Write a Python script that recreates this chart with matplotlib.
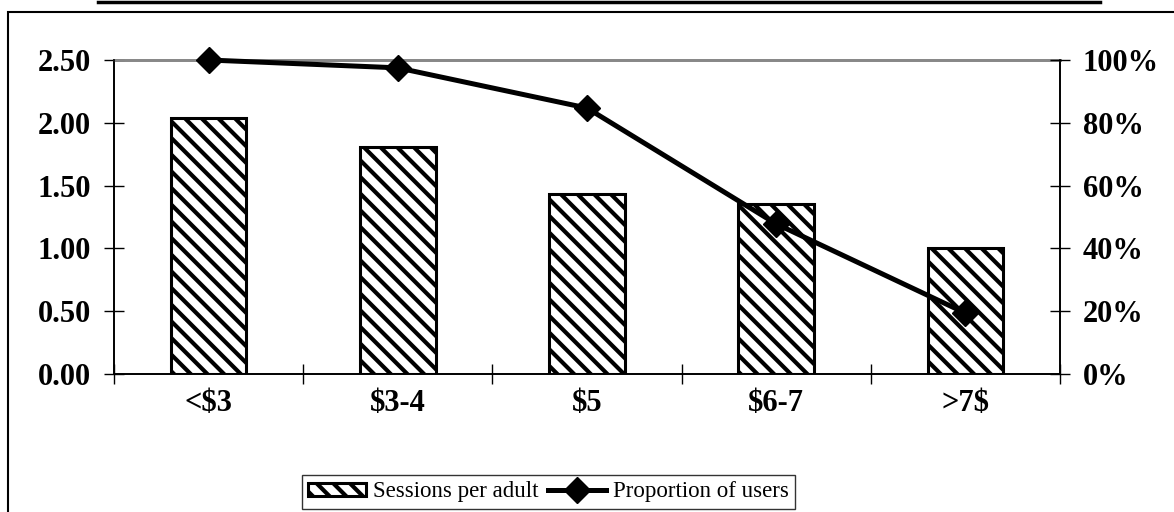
import matplotlib
matplotlib.use("Agg")
import matplotlib.pyplot as plt
from matplotlib.patches import Rectangle
from matplotlib.lines import Line2D
from matplotlib.ticker import FuncFormatter

#%% --- Data ---

categories = ["<$3", "$3-4", "$5", "$6-7", ">7$"]
sessions_per_adult = [2.04, 1.81, 1.43, 1.35, 1.00]
proportion_of_users = [1.00, 0.975, 0.847, 0.478, 0.194]

left_ticks = [0.0, 0.5, 1.0, 1.5, 2.0, 2.5]
right_ticks = [0.0, 0.2, 0.4, 0.6, 0.8, 1.0]

#%% --- Plot ---

plt.rcParams["font.family"] = ["Liberation Serif", "DejaVu Serif"]
plt.rcParams["hatch.linewidth"] = 3.0
plt.rcParams["hatch.color"] = "#3a3a3a"

W, H = 1174, 512
fig = plt.figure(figsize=(W / 100, H / 100), dpi=100)

ax = fig.add_axes([114 / W, 138 / H, (1060 - 114) / W, (374 - 60) / H])
ax2 = ax.twinx()

x = list(range(len(categories)))
bars = ax.bar(x, sessions_per_adult, width=0.40, facecolor="white",
              edgecolor="black", linewidth=2.2, hatch="\\\\",
              label="Sessions per adult", zorder=2)

line, = ax2.plot(x, proportion_of_users, color="black", linewidth=3.6,
                 marker="D", markersize=13, label="Proportion of users",
                 zorder=5, clip_on=False)

# --- limits ---
ax.set_xlim(-0.5, len(categories) - 0.5)
ax.set_ylim(0, 2.5)
ax2.set_ylim(0, 1.0)

# --- spines ---
for a in (ax, ax2):
    a.spines["top"].set_color("#888888")
    a.spines["top"].set_linewidth(2.0)
    a.spines["top"].set_zorder(1)
    a.spines["left"].set_linewidth(1.2)
    a.spines["right"].set_linewidth(1.2)
    a.spines["bottom"].set_linewidth(1.2)

# --- ticks ---
ax.set_yticks(left_ticks)
ax.yaxis.set_major_formatter(FuncFormatter(lambda v, p: "%.2f" % v))
ax2.set_yticks(right_ticks)
ax2.yaxis.set_major_formatter(FuncFormatter(lambda v, p: "%d%%" % round(v * 100)))

ax.set_xticks([i - 0.5 for i in range(len(categories) + 1)], minor=False)
ax.set_xticklabels([])
ax.set_xticks(x, minor=True)
ax.set_xticklabels(categories, minor=True, fontsize=22, fontweight="bold")

ax.tick_params(axis="x", which="major", direction="inout", length=15, width=1)
ax.tick_params(axis="x", which="minor", length=0, pad=11)
ax.tick_params(axis="y", direction="inout", length=15, width=1,
               labelsize=22, pad=9)
ax2.tick_params(axis="y", direction="inout", length=15, width=1,
                labelsize=22, pad=9)
for lab in ax.get_yticklabels() + ax2.get_yticklabels():
    lab.set_fontweight("bold")

# top tick in the same grey as the top line
ax.yaxis.get_major_ticks()[-1].tick1line.set_color("#888888")
ax2.yaxis.get_major_ticks()[-1].tick2line.set_color("#888888")

# --- legend ---
leg = fig.legend(handles=[bars, line], loc="center", ncol=2,
                 bbox_to_anchor=(548.5 / W, 1 - 492 / H), fontsize=16.5,
                 frameon=True, fancybox=False, edgecolor="black",
                 handlelength=2.5, handleheight=0.5, handletextpad=0.3,
                 columnspacing=0.45, borderpad=0.3, borderaxespad=0)
leg.get_frame().set_linewidth(1.0)

# --- outer frame and top rule ---
fig.patches.append(Rectangle((8 / W, -0.05), 1.2, 1 - 12 / H + 0.05,
                             transform=fig.transFigure, fill=False,
                             edgecolor="black", linewidth=1.5))
fig.lines.append(Line2D([98 / W, 1100 / W], [1 - 1.5 / H, 1 - 1.5 / H],
                        transform=fig.transFigure, color="black",
                        linewidth=2.5))

fig.savefig("out.png", dpi=100)
